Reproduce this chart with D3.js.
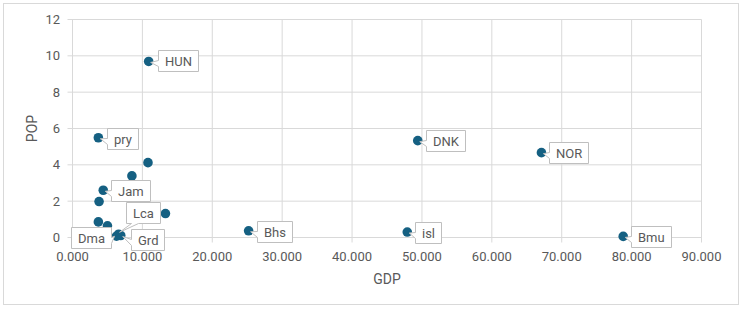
<!DOCTYPE html>
<html>
<head>
<meta charset="utf-8">
<script src="https://cdn.jsdelivr.net/npm/d3@7"></script>
<style>
  body { margin: 0; background: #fff; }
  svg { display: block; font-family: Roboto, "Liberation Sans", sans-serif; }
</style>
</head>
<body>
<svg id="chart" width="742" height="309"></svg>
<script>
// data (GDP in thousands, POP)
var names = ["HUN", "pry", "", "", "Jam", "", "", "", "", "Dma", "Lca", "Grd", "Bhs", "DNK", "NOR", "isl", "Bmu"];
var gdp = [10.9, 3.7, 10.8, 8.5, 4.4, 3.8, 13.3, 3.7, 5.0, 6.3, 6.6, 6.9, 25.2, 49.4, 67.1, 47.9, 78.8];
var pop = [9.69, 5.49, 4.12, 3.39, 2.60, 1.98, 1.32, 0.86, 0.64, 0.07, 0.18, 0.11, 0.37, 5.33, 4.67, 0.30, 0.06];
var xTicks = [0, 10, 20, 30, 40, 50, 60, 70, 80, 90];
var yTicks = [0, 2, 4, 6, 8, 10, 12];

// where each callout box sits relative to its point (layout only)
var calloutLayout = {
    HUN: {dx: 9, dy: -11, side: "left"},
    pry: {dx: 9, dy: -10, side: "left"},
    Jam: {dx: 8, dy: -10, side: "left"},
    Dma: {dx: -44, dy: -9, side: "right"},
    Lca: {dx: 7, dy: -32, side: "bottom"},
    Grd: {dx: 10, dy: -7, side: "left"},
    Bhs: {dx: 8, dy: -10, side: "left"},
    DNK: {dx: 8, dy: -11, side: "left"},
    NOR: {dx: 8, dy: -11, side: "left"},
    isl: {dx: 8, dy: -10, side: "left"},
    Bmu: {dx: 8, dy: -10, side: "left"}
};

var svg = d3.select("#chart");
var grey = "#595959";

svg.append("rect")
    .attr("x", 3.5).attr("y", 3.5)
    .attr("width", 735).attr("height", 301)
    .attr("fill", "#fff")
    .attr("stroke", "#d9d9d9");

var x = d3.scaleLinear().domain([0, 90]).range([72.5, 701.5]);
var y = d3.scaleLinear().domain([0, 12]).range([237.5, 19.5]);

// gridlines
svg.append("g").selectAll("line").data(xTicks).enter().append("line")
    .attr("x1", function(d) { return x(d); })
    .attr("x2", function(d) { return x(d); })
    .attr("y1", y(12)).attr("y2", y(0) + 5)
    .attr("stroke", "#d9d9d9");

svg.append("g").selectAll("line").data(yTicks).enter().append("line")
    .attr("x1", x(0) - 5).attr("x2", x(90))
    .attr("y1", function(d) { return y(d); })
    .attr("y2", function(d) { return y(d); })
    .attr("stroke", "#d9d9d9");

// tick labels
svg.append("g").selectAll("text").data(xTicks).enter().append("text")
    .attr("x", function(d) { return x(d); })
    .attr("y", 261)
    .attr("text-anchor", "middle")
    .attr("font-size", 13)
    .attr("fill", grey)
    .text(function(d) { return d3.format(".3f")(d); });

svg.append("g").selectAll("text").data(yTicks).enter().append("text")
    .attr("x", 60)
    .attr("y", function(d) { return y(d); })
    .attr("dy", "0.35em")
    .attr("text-anchor", "end")
    .attr("font-size", 13)
    .attr("fill", grey)
    .text(function(d) { return d; });

// axis titles
svg.append("text")
    .attr("x", (x(0) + x(90)) / 2).attr("y", 284)
    .attr("text-anchor", "middle")
    .attr("font-size", 14)
    .attr("fill", grey)
    .text("GDP");

svg.append("text")
    .attr("transform", "translate(37," + ((y(0) + y(12)) / 2) + ") rotate(-90)")
    .attr("text-anchor", "middle")
    .attr("font-size", 14)
    .attr("fill", grey)
    .text("POP");

var points = names.map(function(n, i) {
    return {name: n, gdp: gdp[i], pop: pop[i]};
});

svg.append("g").selectAll("circle").data(points).enter().append("circle")
    .attr("cx", function(d) { return x(d.gdp); })
    .attr("cy", function(d) { return y(d.pop); })
    .attr("r", 4.8)
    .attr("fill", "#156082");

// callouts
var calloutPath = function(bx, by, w, h, tx, ty, side) {
    if (side === "right") {
        return "M" + bx + "," + by + "H" + (bx + w) + "V" + (by + h - 11) +
            "L" + tx + "," + ty + "L" + (bx + w) + "," + (by + h - 5) +
            "V" + (by + h) + "H" + bx + "Z";
    }
    if (side === "bottom") {
        return "M" + bx + "," + by + "H" + (bx + w) + "V" + (by + h) +
            "H" + (bx + 12) + "L" + tx + "," + ty + "L" + (bx + 5) + "," + (by + h) +
            "H" + bx + "Z";
    }
    return "M" + bx + "," + by + "H" + (bx + w) + "V" + (by + h) + "H" + bx +
        "V" + (by + h - 5) + "L" + tx + "," + ty + "L" + bx + "," + (by + h - 11) + "Z";
};

var labelled = points.filter(function(d) { return d.name !== ""; });
// draw Dma last so it overlaps like the picture
labelled.sort(function(a, b) { return (a.name === "Dma") - (b.name === "Dma"); });

var callout = svg.append("g").selectAll("g").data(labelled).enter().append("g");

callout.each(function(d) {
    var g = d3.select(this);
    var lay = calloutLayout[d.name];
    var px = x(d.gdp), py = y(d.pop);
    var txt = g.append("text")
        .attr("font-size", 13)
        .attr("fill", grey)
        .text(d.name);
    var w = Math.round(txt.node().getComputedTextLength()) + 13;
    var h = 21;
    var bx = Math.round(px + lay.dx) + 0.5;
    var by = Math.round(py + lay.dy) + 0.5;
    if (lay.side === "right") { bx = Math.round(px + lay.dx + 38 - w) + 0.5; }
    var tx = px, ty = py;
    if (lay.side === "left") { tx = px + 2; ty = py + 1; }
    if (lay.side === "right") { tx = px - 2; ty = py; }
    if (lay.side === "bottom") { tx = px + 1; ty = py - 2; }
    g.insert("path", "text")
        .attr("d", calloutPath(bx, by, w, h, tx, ty, lay.side))
        .attr("fill", "#fff")
        .attr("stroke", "#bfbfbf");
    txt.attr("x", bx + 6.5).attr("y", by + h / 2).attr("dy", "0.35em");
});
</script>
</body>
</html>
